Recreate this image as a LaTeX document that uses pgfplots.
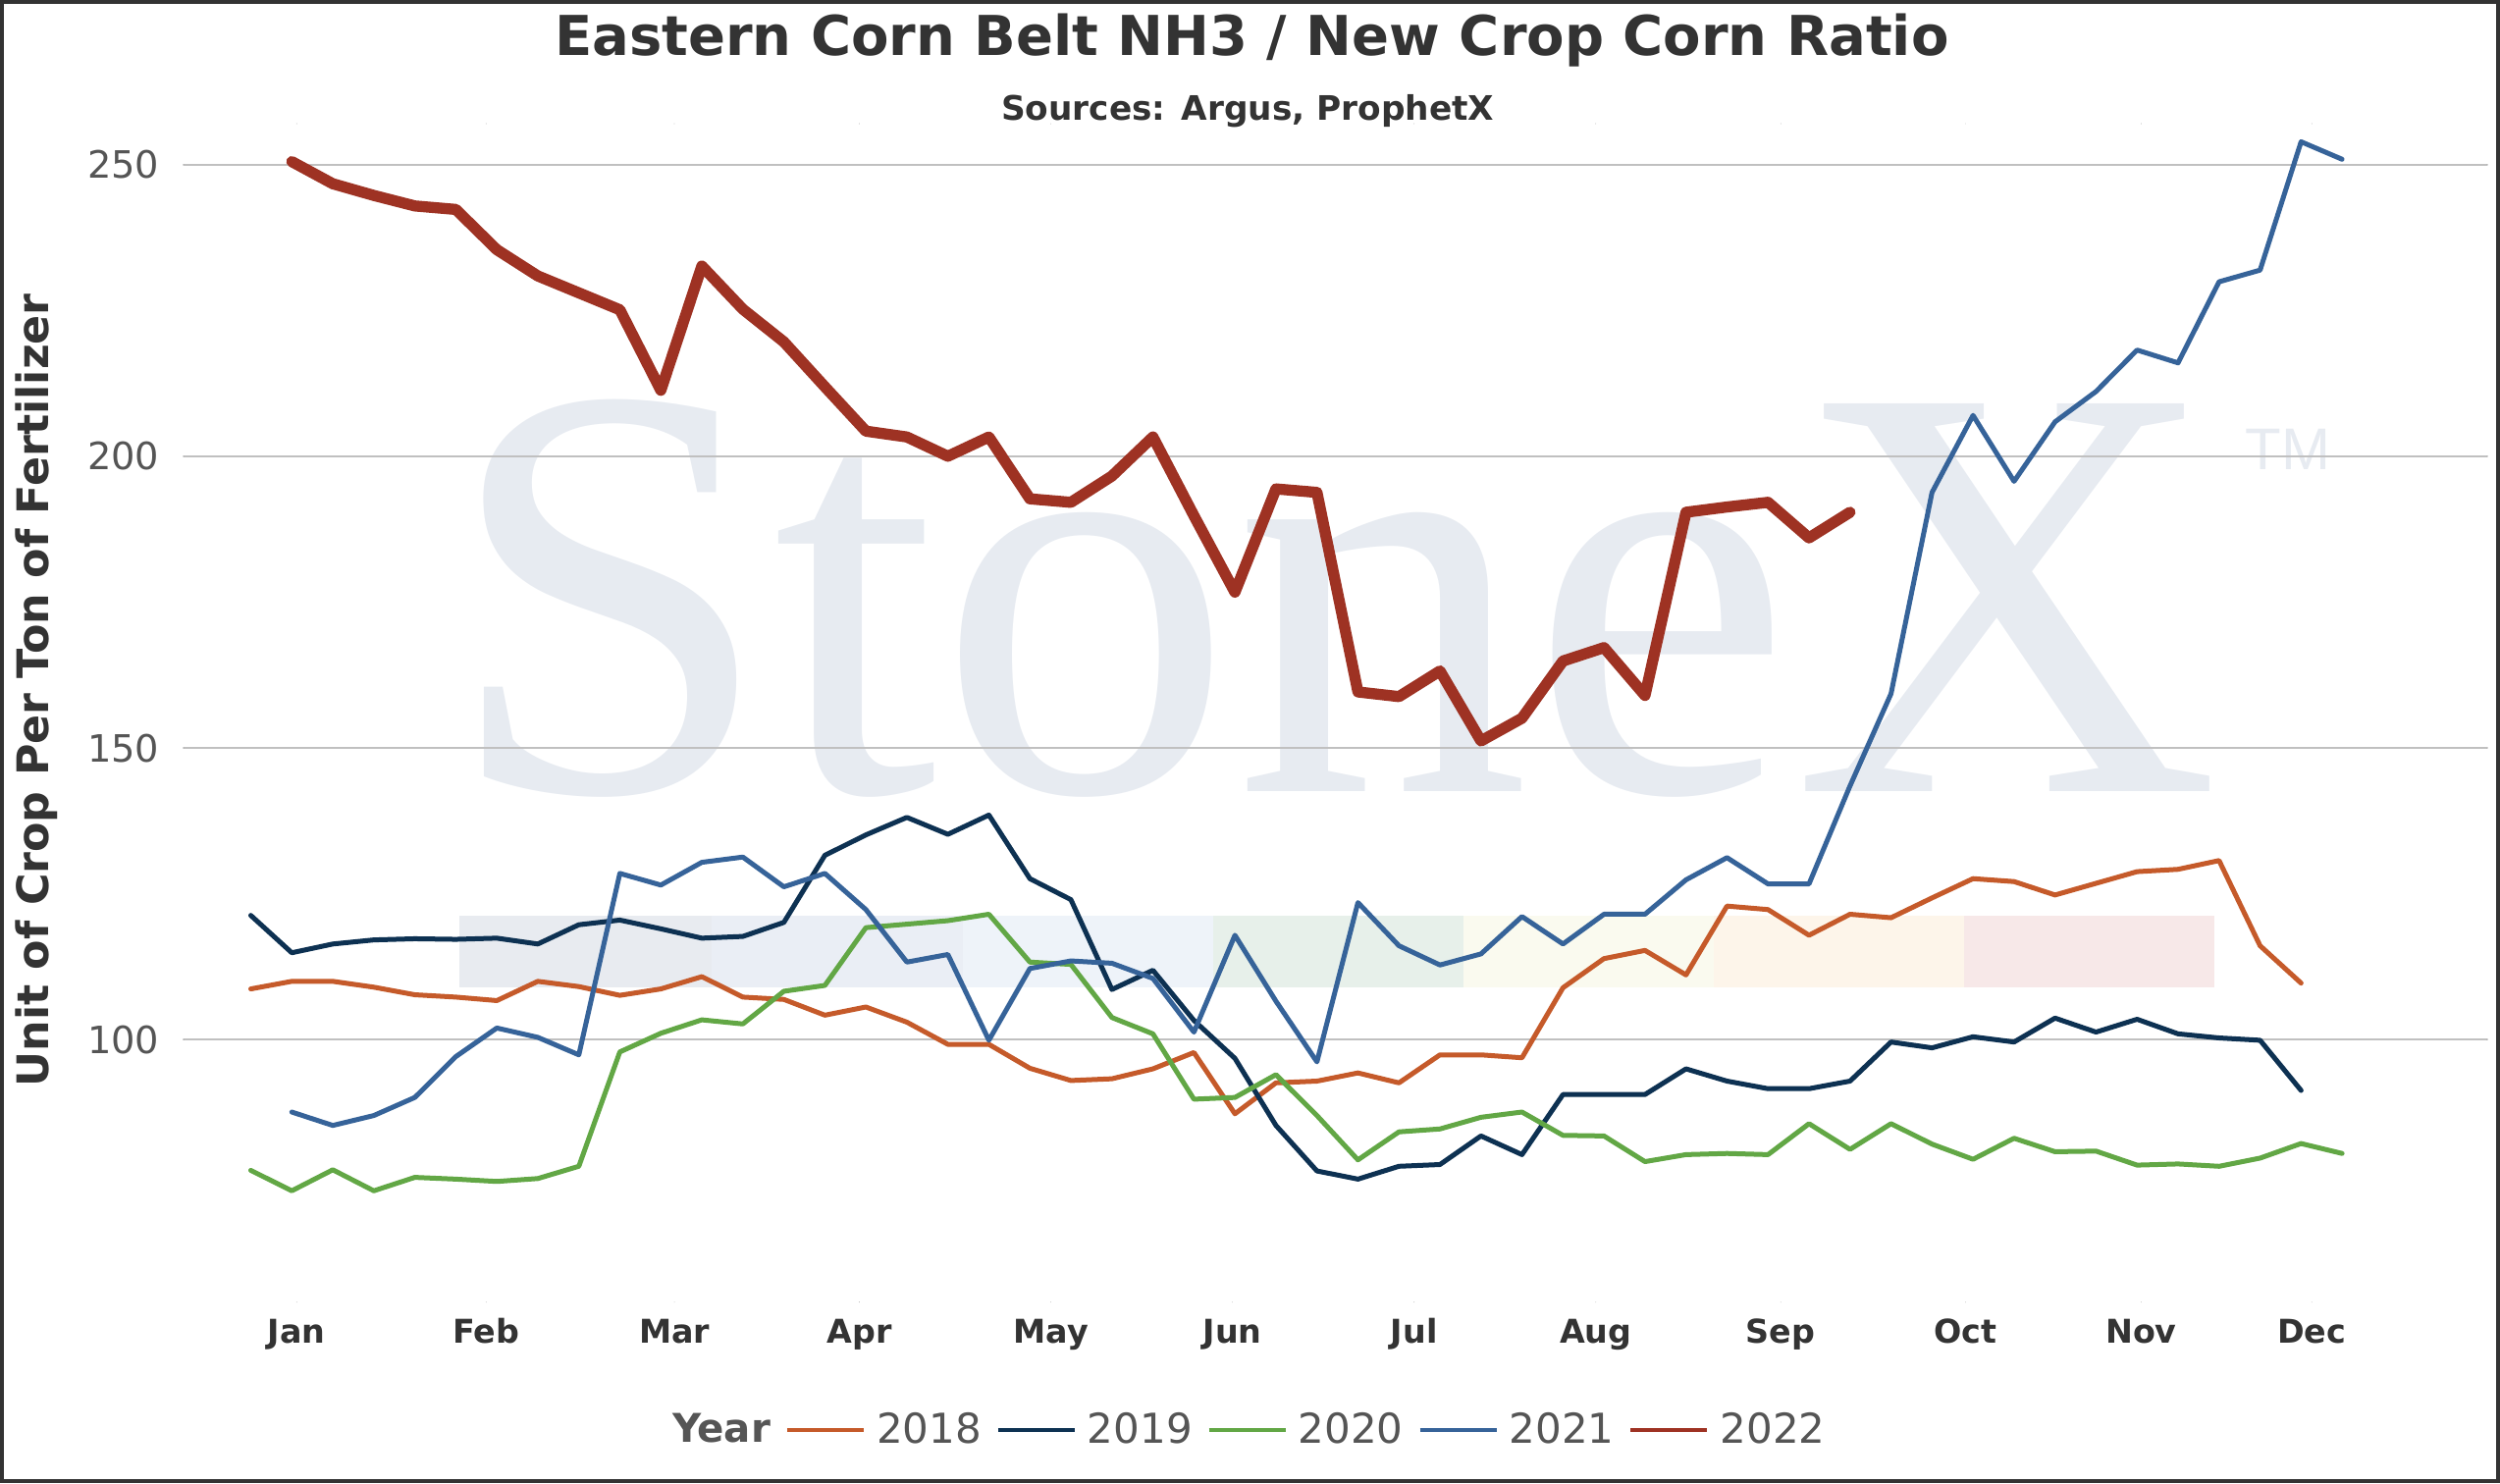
\documentclass[border=0pt]{standalone}
\usepackage{fontspec}
\setmainfont{DejaVu Sans}
\newfontfamily\wmfont{Liberation Serif}
\newfontfamily\wmsans{Liberation Sans}
\usepackage{pgfplots}
\pgfplotsset{compat=1.18}
\definecolor{cA}{HTML}{C55A2A}
\definecolor{cB}{HTML}{0D3152}
\definecolor{cC}{HTML}{62A745}
\definecolor{cD}{HTML}{366399}
\definecolor{cE}{HTML}{9E3223}
\definecolor{gridgray}{HTML}{C0C0C0}
\definecolor{ticktext}{HTML}{555555}
\definecolor{darktext}{HTML}{333333}
\definecolor{wm}{HTML}{E7EBF1}
\definecolor{bandA}{HTML}{E8EBF0}
\definecolor{bandB}{HTML}{EAEEF5}
\definecolor{bandC}{HTML}{EEF3F9}
\definecolor{bandD}{HTML}{E7F0EA}
\definecolor{bandE}{HTML}{FAFAEF}
\definecolor{bandF}{HTML}{FDF5EA}
\definecolor{bandG}{HTML}{F7E8E8}
\begin{document}
\begin{tikzpicture}[x=1pt,y=1pt]
\path[use as bounding box] (0,0) rectangle (764.1,453.3);
% decorative watermark and bands
\fill[bandA] (140.35,151.56) rectangle (217.35,173.32);
\fill[bandB] (217.35,151.56) rectangle (294.34,173.32);
\fill[bandC] (294.34,151.56) rectangle (370.85,173.32);
\fill[bandD] (370.85,151.56) rectangle (447.36,173.32);
\fill[bandE] (447.36,151.56) rectangle (523.87,173.32);
\fill[bandF] (523.87,151.56) rectangle (600.38,173.32);
\fill[bandG] (600.38,151.56) rectangle (676.89,173.32);
\node[anchor=base west, inner sep=0pt, text=wm, font=\wmfont\fontsize{181}{181}\selectfont] at (135.5,211.2) {StoneX};
\node[anchor=base west, inner sep=0pt, text=wm, font=\wmsans\fontsize{18}{18}\selectfont] at (686,309.6) {TM};
% titles
\node[font=\bfseries\fontsize{16.8}{20}\selectfont, text=darktext] at (382.6,441.1) {Eastern Corn Belt NH3 / New Crop Corn Ratio};
\node[font=\bfseries\fontsize{10.3}{12}\selectfont, text=darktext] at (381.4,419.2) {Sources: Argus, ProphetX};
\node[rotate=90, font=\bfseries\fontsize{13.3}{15}\selectfont, text=darktext] at (11.2,242.3) {Unit of Crop Per Ton of Fertilizer};
\begin{axis}[
  at={(56.1pt,55.26pt)}, anchor=south west,
  width=704.1pt, height=360.24pt, scale only axis,
  xmin=-2.64, xmax=53.54, ymin=55, ymax=257,
  axis line style={draw=none},
  major tick length=0pt,
  ytick={100,150,200,250},
  ymajorgrids,
  grid style={color=gridgray, line width=0.55pt},
  xtick={0.12,4.74,9.33,13.84,18.51,22.94,27.37,31.80,36.31,40.82,45.10,49.26},
  xticklabels={Jan,Feb,Mar,Apr,May,Jun,Jul,Aug,Sep,Oct,Nov,Dec},
  xticklabel style={font=\bfseries\fontsize{10}{12}\selectfont, text=darktext, anchor=base, yshift=-12.4pt},
  yticklabel style={font=\fontsize{11.5}{13}\selectfont, text=ticktext, anchor=east, xshift=-3.9pt},
  /pgf/number format/assume math mode=true,
  line join=round, line cap=round,
  legend columns=6,
  legend style={at={(axis description cs:0.4615,-0.1084)}, anchor=center, draw=none, fill=none,
    font=\fontsize{12.6}{14}\selectfont, text=ticktext,
    /tikz/every even column/.append style={column sep=2.4pt},
    /tikz/column sep=1.3pt},
  legend image code/.code={\draw[#1, line width=1.3pt, line cap=butt] (0pt,0pt) -- (23.4pt,0pt);},
]
\addlegendimage{empty legend}
\addlegendentry{\bfseries\fontsize{12.1}{14}\selectfont Year}
\addplot[color=cA, line width=1.5pt] coordinates {
(-1,108.7) (0,110.0) (1,110.0) (2,109.0) (3,107.7) (4,107.3) (5,106.7) (6,110.0) (7,109.1) (8,107.6)
(9,108.7) (10,110.8) (11,107.3) (12,106.9) (13,104.2) (14,105.6) (15,103.0) (16,99.2) (17,99.2) (18,95.1)
(19,93.0) (20,93.3) (21,95.0) (22,97.8) (23,87.3) (24,92.6) (25,92.9) (26,94.3) (27,92.6) (28,97.4)
(29,97.4) (30,96.9) (31,108.9) (32,113.9) (33,115.3) (34,111.1) (35,122.9) (36,122.3) (37,117.9) (38,121.5)
(39,120.9) (40,124.3) (41,127.6) (42,127.1) (43,124.8) (44,126.8) (45,128.8) (46,129.2) (47,130.7) (48,116.1)
(49,109.7)};
\addlegendentry{2018}
\addplot[color=cB, line width=1.5pt] coordinates {
(-1,121.3) (0,114.9) (1,116.4) (2,117.1) (3,117.3) (4,117.2) (5,117.4) (6,116.4) (7,119.7) (8,120.5)
(9,119.0) (10,117.4) (11,117.7) (12,120.1) (13,131.6) (14,135.1) (15,138.1) (16,135.2) (17,138.5) (18,127.6)
(19,124.0) (20,108.6) (21,111.9) (22,103.3) (23,96.8) (24,85.3) (25,77.5) (26,76.1) (27,78.3) (28,78.6)
(29,83.5) (30,80.3) (31,90.6) (32,90.6) (33,90.6) (34,95.0) (35,92.9) (36,91.6) (37,91.6) (38,92.9)
(39,99.6) (40,98.6) (41,100.5) (42,99.6) (43,103.7) (44,101.3) (45,103.5) (46,101.0) (47,100.3) (48,99.9)
(49,91.3)};
\addlegendentry{2019}
\addplot[color=cC, line width=1.5pt] coordinates {
(-1,77.6) (0,74.1) (1,77.7) (2,74.1) (3,76.4) (4,76.1) (5,75.7) (6,76.2) (7,78.3) (8,97.9)
(9,101.1) (10,103.4) (11,102.7) (12,108.3) (13,109.3) (14,119.2) (15,119.8) (16,120.4) (17,121.5) (18,113.3)
(19,112.9) (20,103.8) (21,101.0) (22,89.8) (23,90.1) (24,94.0) (25,87.0) (26,79.4) (27,84.2) (28,84.7)
(29,86.7) (30,87.6) (31,83.6) (32,83.5) (33,79.1) (34,80.3) (35,80.5) (36,80.3) (37,85.6) (38,81.2)
(39,85.6) (40,82.1) (41,79.5) (42,83.1) (43,80.8) (44,80.9) (45,78.5) (46,78.7) (47,78.3) (48,79.7)
(49,82.2) (50,80.5)};
\addlegendentry{2020}
\addplot[color=cD, line width=1.5pt] coordinates {
(0,87.6) (1,85.3) (2,87.0) (3,90.1) (4,97.1) (5,102.0) (6,100.4) (7,97.4) (8,128.5)
(9,126.5) (10,130.4) (11,131.3) (12,126.2) (13,128.5) (14,122.3) (15,113.3) (16,114.6) (17,99.9) (18,112.2)
(19,113.5) (20,113.1) (21,110.5) (22,101.3) (23,117.9) (24,106.6) (25,96.2) (26,123.5) (27,116.1) (28,112.8)
(29,114.7) (30,121.1) (31,116.4) (32,121.5) (33,121.5) (34,127.4) (35,131.2) (36,126.7) (37,126.7) (38,143.5)
(39,159.3) (40,193.8) (41,207.0) (42,195.7) (43,205.9) (44,211.1) (45,218.2) (46,216.0) (47,229.9) (48,231.9)
(49,253.9) (50,250.9)};
\addlegendentry{2021}
\addplot[color=cE, line width=3.4pt] coordinates {
(0,250.5) (1,246.7) (2,244.7) (3,242.9) (4,242.3) (5,235.4) (6,230.9) (7,228.0) (8,225.1)
(9,211.3) (10,232.6) (11,225.2) (12,219.6) (13,211.9) (14,204.3) (15,203.3) (16,200.0) (17,203.3) (18,192.7)
(19,192.1) (20,196.6) (21,203.3) (22,189.8) (23,176.7) (24,194.4) (25,193.8) (26,159.6) (27,158.8) (28,163.2)
(29,151.2) (30,155.1) (31,164.9) (32,167.2) (33,159.0) (34,190.4) (35,191.3) (36,192.1) (37,186.0) (38,190.4)};
\addlegendentry{2022}
\end{axis}
\draw[line width=1.2pt, color=darktext] (0.6,0.6) rectangle (763.5,452.7);
\end{tikzpicture}
\end{document}
